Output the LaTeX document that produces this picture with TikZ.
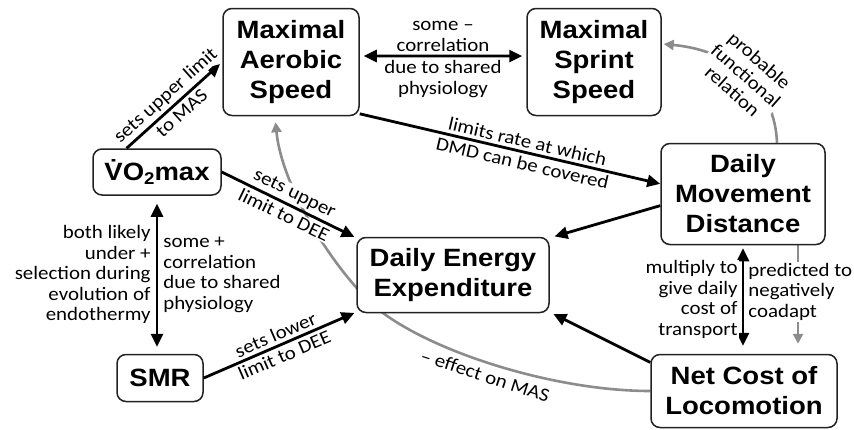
\documentclass[tikz,border=0pt]{standalone}
\usepackage{fontspec}
\usepackage{xcolor}
\usepackage{tikz}
\usetikzlibrary{arrows.meta,positioning,backgrounds}
\newfontfamily\boxfont[FakeStretch=1.1]{Liberation Sans}
\newfontfamily\lblfont[FakeStretch=1.1]{Carlito}
\definecolor{boxline}{HTML}{222222}
\definecolor{linkgrey}{HTML}{8C8C8C}
\tikzset{
  qbox/.style={draw=boxline, fill=white, rounded corners=9pt, line width=1.5pt, align=center, inner sep=0pt, font={\boxfont\bfseries\fontsize{25pt}{30pt}\selectfont}},
  qarrow/.style={-{Triangle[length=13pt,width=12pt]}, line width=2.8pt, black},
  qboth/.style={qarrow, {Triangle[length=13pt,width=12pt]}-{Triangle[length=13pt,width=12pt]}},
  qgrey/.style={-{Triangle[length=10pt,width=10pt]}, line width=2.6pt, linkgrey},
  qlabel/.style={font={\lblfont\fontsize{19pt}{20.5pt}\selectfont}, text=black, align=center, fill=white, inner sep=1pt},
}

\begin{document}
\begin{tikzpicture}[x=1pt, y=-1pt]
  \useasboundingbox (0,0) rectangle (854,429);
  % boxes
  \node[qbox, minimum width=136pt, minimum height=107pt] (mas) at (291,62) {Maximal\\Aerobic\\Speed};
  \node[qbox, minimum width=134pt, minimum height=107pt] (mss) at (594,62) {Maximal\\Sprint\\Speed};
  \node[qbox, minimum width=164pt, minimum height=101pt] (dmd) at (743,194) {Daily\\Movement\\Distance};
  \node[qbox, minimum width=128pt, minimum height=46pt] (vo2) at (157,172) {\.{V}O\raisebox{-4pt}{\fontsize{17pt}{17pt}\selectfont 2}max};
  \node[qbox, minimum width=86pt, minimum height=47pt] (smr) at (160,378) {SMR};
  \node[qbox, minimum width=192pt, minimum height=75pt] (dee) at (453,275) {Daily Energy\\Expenditure};
  \node[qbox, minimum width=186pt, minimum height=73pt] (ncl) at (744,391) {Net Cost of\\Locomotion};
  \coordinate (dmdgs) at ([xshift=55pt]dmd.south);
  % grey links
  \begin{scope}[on background layer]
    \draw[qgrey, shorten >=6pt] (ncl.west) .. controls +(-92,0) and (440,355) .. (383,313)
      node[qlabel, pos=0.55, sloped, below=4pt] {– effect on MAS}
      .. controls (340,280) and (282,190) .. ([xshift=-16pt]mas.south);
    \draw[qgrey, shorten >=2pt] ([xshift=34pt]dmd.north) .. controls +(-2,-54) and +(73,7) .. (mss.15)
      node[qlabel, midway, sloped] {probable\\functional\\relation};
    \draw[qgrey, shorten >=10pt] (dmdgs) -- (dmdgs |- ncl.north);
  \end{scope}
  % black links
  \draw[qarrow, shorten >=3pt] (vo2.142) -- (mas.west)
    node[qlabel, midway, sloped, above=2pt] {sets upper limit}
    node[qlabel, midway, sloped, below=2pt] {to MAS};
  \draw[qboth, shorten <=4pt, shorten >=4pt] (mas.5) -- (mss.175)
    node[qlabel, midway, above=2pt] {some –\\correlation}
    node[qlabel, midway, below=2pt] {due to shared\\physiology};
  \draw[qarrow] (mas.-37) -- (dmd.173)
    node[qlabel, pos=0.55, sloped, above=2pt] {limits rate at which}
    node[qlabel, pos=0.55, sloped, below=2pt] {DMD can be covered};
  \draw[qarrow, shorten >=2pt] (vo2.east) -- (dee.159)
    node[qlabel, midway, sloped, above=2pt] {sets upper}
    node[qlabel, midway, sloped, below=2pt] {limit to DEE};
  \draw[qboth, shorten <=8pt, shorten >=7pt] (vo2.south) -- (vo2.south |- smr.north)
    node[qlabel, midway, left=4pt, align=right] {both likely\\under +\\selection during\\evolution of\\endothermy}
    node[qlabel, midway, right=4pt, align=left] {some +\\correlation\\due to shared\\physiology};
  \draw[qarrow, shorten >=2pt] (smr.east) -- (dee.201)
    node[qlabel, midway, sloped, above=2pt] {sets lower}
    node[qlabel, midway, sloped, below=2pt] {limit to DEE};
  \draw[qarrow, shorten >=5pt] (dmd.188) -- (dee.21);
  \draw[qarrow, shorten >=4pt] (ncl.163) -- (dee.-21);
  \draw[qboth, shorten <=3pt, shorten >=8pt] (dmd.south) -- (dmd.south |- ncl.north)
    node[qlabel, midway, left=3pt, align=right] {multiply to\\give daily\\cost of\\transport}
    node[qlabel, pos=0.43, right=3pt, align=left] {predicted to\\negatively\\coadapt};
\end{tikzpicture}
\end{document}
